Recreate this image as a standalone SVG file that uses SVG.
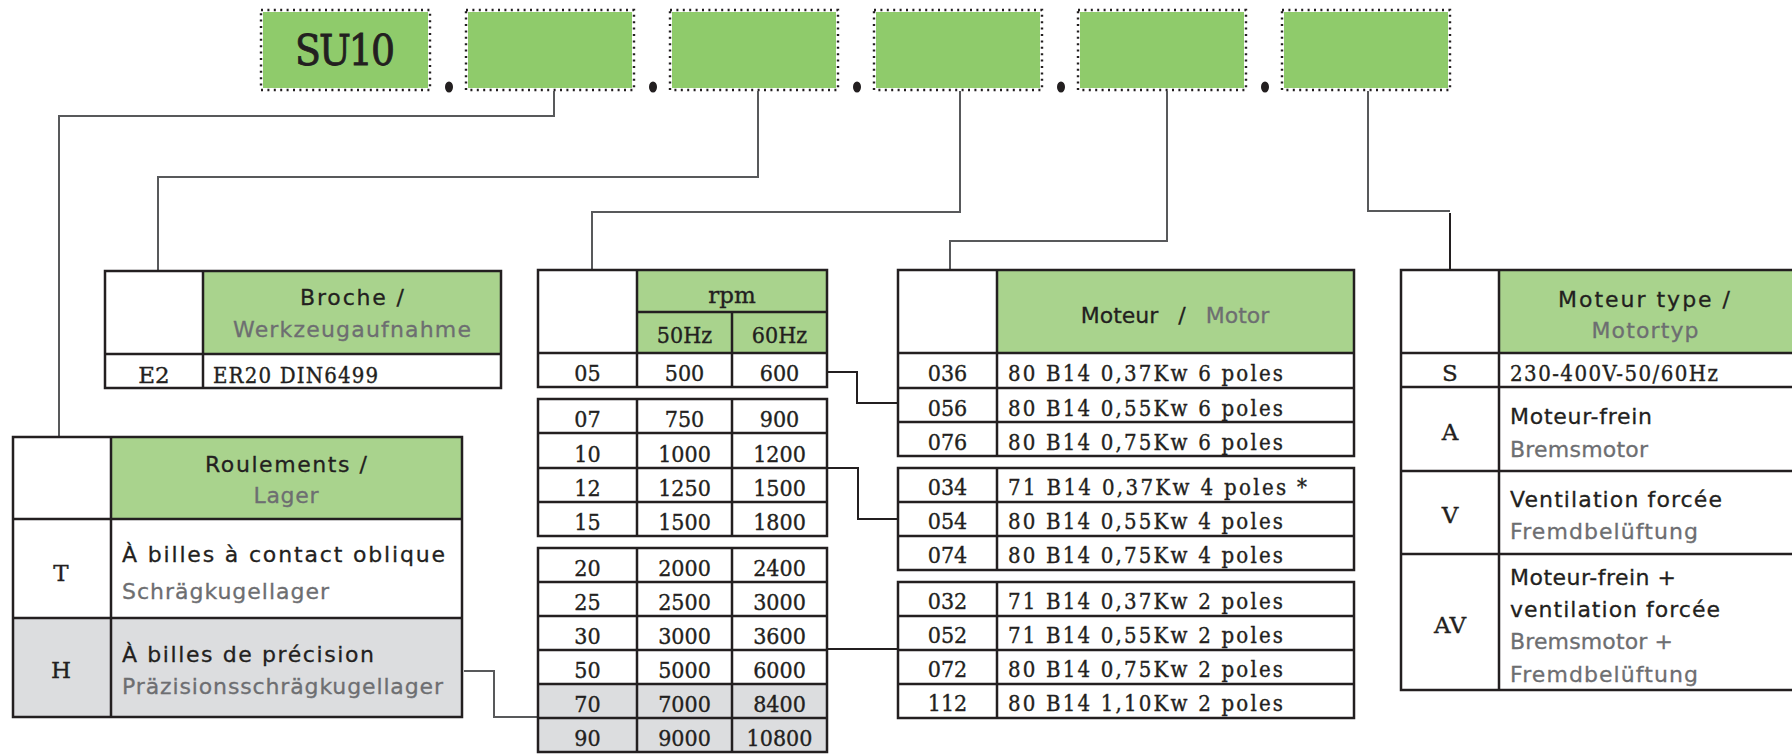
<svg xmlns="http://www.w3.org/2000/svg" width="1792" height="755" viewBox="0 0 1792 755">
<style>
.bg{fill:#ffffff}
.top{fill:#8fcb6b}
.dot{fill:none;stroke:#231f20;stroke-width:2.4;stroke-dasharray:2 4.4}
.sep{fill:#231f20}
.tb{fill:none;stroke:#231f20;stroke-width:2.5}
.hdr{fill:#a9d38d}
.gr{fill:#dcdddf}
.t{font-family:"DejaVu Sans",sans-serif;font-size:22px;fill:#231f20;stroke:#231f20;stroke-width:0.3}
.g{fill:#6d6e71;stroke:#6d6e71}
.n{font-family:"DejaVu Serif Condensed","DejaVu Serif",serif;font-stretch:condensed;font-size:23px;fill:#231f20;stroke:#231f20;stroke-width:0.35;text-anchor:middle}
.k{font-family:"DejaVu Serif",serif;font-size:23px;fill:#231f20;stroke:#231f20;stroke-width:0.35;text-anchor:middle}
.s{font-family:"DejaVu Serif Condensed","DejaVu Serif",serif;font-stretch:condensed;font-size:22px;fill:#231f20;stroke:#231f20;stroke-width:0.35}
.m{text-anchor:middle}
.conn{fill:none;stroke:#58595b;stroke-width:2}
.conk{fill:none;stroke:#231f20;stroke-width:2}
</style>
<rect class="bg" x="0" y="0" width="1792" height="755"/>

<g id="code-boxes">
  <g id="box-su10">
    <rect class="top" x="263" y="12" width="165" height="76"/>
    <rect class="dot" x="261" y="10" width="169" height="80"/>
    <text x="345" y="65" font-family="DejaVu Serif Condensed, DejaVu Serif, serif" font-stretch="condensed" font-size="42" fill="#231f20" stroke="#231f20" stroke-width="0.8" text-anchor="middle" textLength="100">SU10</text>
  </g>
  <g id="box-2"><rect class="top" x="468" y="12" width="164" height="76"/><rect class="dot" x="466" y="10" width="168" height="80"/></g>
  <g id="box-3"><rect class="top" x="672" y="12" width="164" height="76"/><rect class="dot" x="670" y="10" width="168" height="80"/></g>
  <g id="box-4"><rect class="top" x="876" y="12" width="164" height="76"/><rect class="dot" x="874" y="10" width="168" height="80"/></g>
  <g id="box-5"><rect class="top" x="1080" y="12" width="164" height="76"/><rect class="dot" x="1078" y="10" width="168" height="80"/></g>
  <g id="box-6"><rect class="top" x="1284" y="12" width="164" height="76"/><rect class="dot" x="1282" y="10" width="168" height="80"/></g>
  <ellipse class="sep" cx="449" cy="87" rx="4" ry="5.5"/>
  <ellipse class="sep" cx="653" cy="87" rx="4" ry="5.5"/>
  <ellipse class="sep" cx="857" cy="87" rx="4" ry="5.5"/>
  <ellipse class="sep" cx="1061" cy="87" rx="4" ry="5.5"/>
  <ellipse class="sep" cx="1265" cy="87" rx="4" ry="5.5"/>
</g>

<g id="connectors">
  <path class="conn" d="M554 91 V116 H59 V437"/>
  <path class="conn" d="M758 91 V177 H158 V271"/>
  <path class="conn" d="M960 91 V212 H592 V270"/>
  <path class="conn" d="M1167 91 V241 H950 V270"/>
  <path class="conn" d="M1368 91 V211 H1450"/>
  <path class="conk" d="M1450 213 V270"/>
  <path class="conn" d="M464 671 H494 V717 H538"/>
  <path class="conk" d="M827 372 H857 V403 H898"/>
  <path class="conk" d="M827 468 H858 V519 H898"/>
  <path class="conk" d="M827 649 H898"/>
</g>

<g id="table-broche">
  <rect class="hdr" x="203" y="271" width="298" height="83"/>
  <rect class="tb" x="105" y="271" width="396" height="117"/>
  <path class="tb" d="M203 271 V388 M105 354 H501"/>
  <text class="t m" x="352" y="305" textLength="104">Broche /</text>
  <text class="t m g" x="352" y="337" textLength="238">Werkzeugaufnahme</text>
  <text class="k" x="154" y="383">E2</text>
  <text class="s" x="213" y="383" textLength="165">ER20 DIN6499</text>
</g>

<g id="table-roulements">
  <rect class="gr" x="13" y="618" width="449" height="99"/>
  <rect class="hdr" x="111" y="437" width="351" height="82"/>
  <rect class="tb" x="13" y="437" width="449" height="280"/>
  <path class="tb" d="M111 437 V717 M13 519 H462 M13 618 H462"/>
  <text class="t m" x="286" y="472" textLength="162">Roulements /</text>
  <text class="t m g" x="286" y="503" textLength="65">Lager</text>
  <text class="k" x="61" y="581">T</text>
  <text class="t" x="122" y="562" textLength="323">À billes à contact oblique</text>
  <text class="t g" x="122" y="599" textLength="207">Schrägkugellager</text>
  <text class="k" x="61" y="678">H</text>
  <text class="t" x="122" y="662" textLength="252">À billes de précision</text>
  <text class="t g" x="122" y="694" textLength="321">Präzisionsschrägkugellager</text>
</g>

<g id="table-rpm">
  <rect class="hdr" x="637" y="270" width="190" height="83"/>
  <rect class="tb" x="538" y="270" width="289" height="117"/>
  <path class="tb" d="M637 270 V387 M732 312 V387 M637 312 H827 M538 353 H827"/>
  <text class="k" x="732" y="303">rpm</text>
  <text class="n" x="684.5" y="343">50Hz</text>
  <text class="n" x="779.5" y="343">60Hz</text>
  <text class="n" x="587.5" y="381">05</text><text class="n" x="684.5" y="381">500</text><text class="n" x="779.5" y="381">600</text>

  <rect class="tb" x="538" y="399" width="289" height="137"/>
  <path class="tb" d="M637 399 V536 M732 399 V536 M538 433 H827 M538 468 H827 M538 502 H827"/>
  <text class="n" x="587.5" y="427">07</text><text class="n" x="684.5" y="427">750</text><text class="n" x="779.5" y="427">900</text>
  <text class="n" x="587.5" y="462">10</text><text class="n" x="684.5" y="462">1000</text><text class="n" x="779.5" y="462">1200</text>
  <text class="n" x="587.5" y="496">12</text><text class="n" x="684.5" y="496">1250</text><text class="n" x="779.5" y="496">1500</text>
  <text class="n" x="587.5" y="530">15</text><text class="n" x="684.5" y="530">1500</text><text class="n" x="779.5" y="530">1800</text>

  <rect class="gr" x="538" y="684" width="289" height="68"/>
  <rect class="tb" x="538" y="548" width="289" height="204"/>
  <path class="tb" d="M637 548 V752 M732 548 V752 M538 582 H827 M538 616 H827 M538 650 H827 M538 684 H827 M538 718 H827"/>
  <text class="n" x="587.5" y="576">20</text><text class="n" x="684.5" y="576">2000</text><text class="n" x="779.5" y="576">2400</text>
  <text class="n" x="587.5" y="610">25</text><text class="n" x="684.5" y="610">2500</text><text class="n" x="779.5" y="610">3000</text>
  <text class="n" x="587.5" y="644">30</text><text class="n" x="684.5" y="644">3000</text><text class="n" x="779.5" y="644">3600</text>
  <text class="n" x="587.5" y="678">50</text><text class="n" x="684.5" y="678">5000</text><text class="n" x="779.5" y="678">6000</text>
  <text class="n" x="587.5" y="712">70</text><text class="n" x="684.5" y="712">7000</text><text class="n" x="779.5" y="712">8400</text>
  <text class="n" x="587.5" y="746">90</text><text class="n" x="684.5" y="746">9000</text><text class="n" x="779.5" y="746">10800</text>
</g>

<g id="table-moteur">
  <rect class="hdr" x="997" y="270" width="357" height="83"/>
  <rect class="tb" x="898" y="270" width="456" height="186"/>
  <path class="tb" d="M997 270 V456 M898 353 H1354 M898 388 H1354 M898 422 H1354"/>
  <text class="t m" x="1175" y="323" word-spacing="13"><tspan>Moteur /</tspan> <tspan class="g">Motor</tspan></text>
  <text class="n" x="947.5" y="381">036</text><text class="s" x="1008" y="381" textLength="275">80 B14 0,37Kw 6 poles</text>
  <text class="n" x="947.5" y="416">056</text><text class="s" x="1008" y="416" textLength="275">80 B14 0,55Kw 6 poles</text>
  <text class="n" x="947.5" y="450">076</text><text class="s" x="1008" y="450" textLength="275">80 B14 0,75Kw 6 poles</text>

  <rect class="tb" x="898" y="468" width="456" height="102"/>
  <path class="tb" d="M997 468 V570 M898 502 H1354 M898 536 H1354"/>
  <text class="n" x="947.5" y="495">034</text><text class="s" x="1008" y="495" textLength="299">71 B14 0,37Kw 4 poles *</text>
  <text class="n" x="947.5" y="529">054</text><text class="s" x="1008" y="529" textLength="275">80 B14 0,55Kw 4 poles</text>
  <text class="n" x="947.5" y="563">074</text><text class="s" x="1008" y="563" textLength="275">80 B14 0,75Kw 4 poles</text>

  <rect class="tb" x="898" y="582" width="456" height="136"/>
  <path class="tb" d="M997 582 V718 M898 616 H1354 M898 650 H1354 M898 684 H1354"/>
  <text class="n" x="947.5" y="609">032</text><text class="s" x="1008" y="609" textLength="275">71 B14 0,37Kw 2 poles</text>
  <text class="n" x="947.5" y="643">052</text><text class="s" x="1008" y="643" textLength="275">71 B14 0,55Kw 2 poles</text>
  <text class="n" x="947.5" y="677">072</text><text class="s" x="1008" y="677" textLength="275">80 B14 0,75Kw 2 poles</text>
  <text class="n" x="947.5" y="711">112</text><text class="s" x="1008" y="711" textLength="275">80 B14 1,10Kw 2 poles</text>
</g>

<g id="table-moteur-type">
  <rect class="hdr" x="1499" y="270" width="301" height="83"/>
  <rect class="tb" x="1401" y="270" width="400" height="420"/>
  <path class="tb" d="M1499 270 V690 M1401 353 H1801 M1401 387 H1801 M1401 471 H1801 M1401 554 H1801"/>
  <text class="t m" x="1644" y="307" textLength="172">Moteur type /</text>
  <text class="t m g" x="1645" y="338" textLength="107">Motortyp</text>
  <text class="k" x="1450" y="381">S</text>
  <text class="s" x="1510" y="381" textLength="208">230-400V-50/60Hz</text>
  <text class="k" x="1450" y="440">A</text>
  <text class="t" x="1510" y="424" textLength="142">Moteur-frein</text>
  <text class="t g" x="1510" y="457" textLength="138">Bremsmotor</text>
  <text class="k" x="1450" y="523">V</text>
  <text class="t" x="1510" y="507" textLength="212">Ventilation forcée</text>
  <text class="t g" x="1510" y="539" textLength="188">Fremdbelüftung</text>
  <text class="k" x="1450" y="633">AV</text>
  <text class="t" x="1510" y="585" textLength="166">Moteur-frein +</text>
  <text class="t" x="1510" y="617" textLength="210">ventilation forcée</text>
  <text class="t g" x="1510" y="649" textLength="163">Bremsmotor +</text>
  <text class="t g" x="1510" y="682" textLength="188">Fremdbelüftung</text>
</g>
</svg>
